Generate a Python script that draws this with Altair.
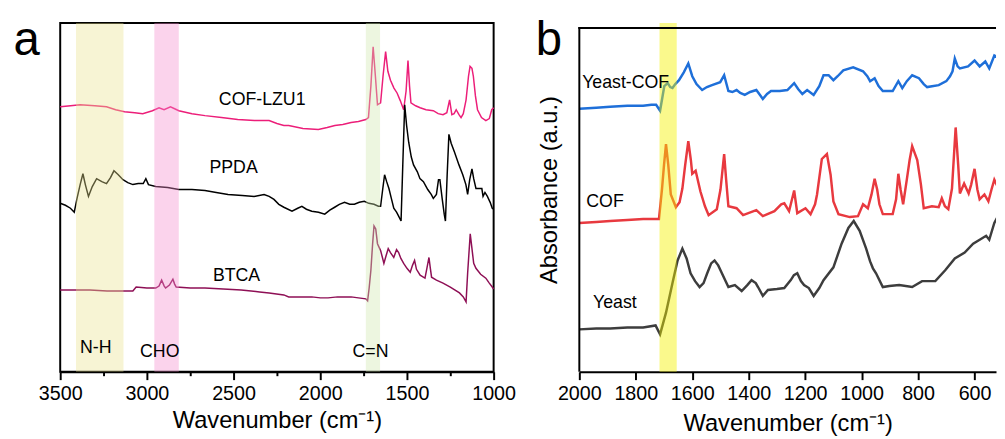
import altair as alt
import pandas as pd

FONT = "Liberation Sans"

# ---------------- Panel a data (wavenumber, relative intensity) ----------------
a_series = ["COF-LZU1", "PPDA", "BTCA"]
a_colors = ["#EC1E79", "#000000", "#8E0F55"]

cof_lzu1_wn = [3500, 3440, 3385, 3300, 3233, 3180, 3129, 3070, 3024, 2968, 2930, 2901, 2864, 2840, 2816,
               2740, 2665, 2570, 2476, 2380, 2295, 2250, 2210, 2182, 2100, 2011, 1960, 1916, 1870, 1822,
               1780, 1737, 1722, 1708, 1695, 1682, 1670, 1652, 1638, 1623, 1610, 1595, 1575, 1557, 1538,
               1519, 1505, 1494, 1485, 1477, 1450, 1424, 1390, 1348, 1320, 1292, 1270, 1254, 1241, 1228,
               1216, 1200, 1188, 1175, 1159, 1145, 1136, 1125, 1117, 1105, 1093, 1070, 1045, 1025, 1011, 1000]
cof_lzu1_v = [269, 270, 271, 270, 269, 266, 264, 263, 262, 265, 268, 266, 269, 267, 265,
              262, 260, 258, 256, 255, 255, 252, 250, 250, 247, 246, 248, 250, 251, 253,
              254, 256, 258, 290, 330, 300, 271, 273, 300, 325, 305, 296, 288, 283, 275,
              266, 285, 316, 290, 273, 270, 268, 266, 265, 262, 261, 263, 276, 261, 262,
              266, 261, 258, 262, 276, 300, 310, 308, 300, 280, 266, 258, 255, 257, 266, 268]

ppda_wn = [3500, 3470, 3441, 3419, 3403, 3385, 3369, 3355, 3337, 3315, 3290, 3260, 3233, 3210, 3190,
           3165, 3138, 3110, 3081, 3050, 3021, 3006, 2991, 2949, 2880, 2816, 2740, 2665, 2600, 2532,
           2450, 2381, 2324, 2295, 2267, 2239, 2210, 2163, 2130, 2106, 2080, 2049, 2010, 1974, 1945,
           1917, 1890, 1860, 1830, 1803, 1775, 1746, 1720, 1690, 1665, 1652, 1640, 1629, 1617, 1604,
           1590, 1576, 1560, 1548, 1534, 1524, 1513, 1502, 1490, 1475, 1462, 1440, 1425, 1405, 1380,
           1360, 1348, 1330, 1318, 1310, 1297, 1285, 1278, 1268, 1258, 1245, 1226, 1200, 1178, 1160,
           1150, 1138, 1125, 1115, 1102, 1080, 1068, 1061, 1050, 1036, 1020, 1008, 1000]
ppda_v = [171, 169, 166, 162, 176, 190, 201, 190, 178, 188, 196, 193, 191, 197, 204,
          200, 195, 192, 190, 191, 191, 196, 190, 188, 187, 185, 185, 184, 182, 180,
          179, 178, 180, 178, 175, 170, 167, 163, 166, 168, 165, 163, 162, 160, 164,
          167, 170, 172, 170, 170, 172, 173, 171, 170, 168, 168, 185, 200, 193, 186,
          176, 166, 162, 158, 153, 210, 271, 250, 233, 218, 210, 203, 196, 193, 185,
          180, 176, 180, 195, 195, 176, 160, 153, 200, 241, 232, 223, 210, 200, 190,
          180, 195, 206, 196, 186, 186, 186, 178, 182, 178, 172, 166, 165]

btca_wn = [3500, 3420, 3328, 3230, 3138, 3081, 3062, 3000, 2949, 2930, 2915, 2900, 2892, 2870, 2850,
           2840, 2831, 2750, 2665, 2560, 2456, 2350, 2295, 2210, 2182, 2100, 2049, 2000, 1955, 1900,
           1822, 1780, 1737, 1727, 1718, 1708, 1698, 1690, 1680, 1670, 1652, 1640, 1633, 1620, 1608,
           1595, 1576, 1560, 1548, 1535, 1519, 1500, 1481, 1468, 1456, 1445, 1424, 1396, 1385, 1373,
           1365, 1358, 1330, 1292, 1250, 1197, 1175, 1159, 1150, 1135, 1125, 1115, 1102, 1075, 1045,
           1025, 1008, 1000]
btca_v = [83, 83, 83, 82, 82, 82, 86, 85, 85, 87, 93, 87, 85, 88, 94,
          89, 86, 85, 85, 84, 83, 81, 80, 78, 76, 76, 76, 75, 75, 76,
          76, 75, 74, 72, 85, 103, 130, 148, 145, 130, 123, 115, 110, 118, 125,
          121, 116, 124, 121, 115, 110, 105, 101, 108, 113, 104, 98, 95, 105, 116,
          105, 96, 93, 90, 86, 80, 76, 71, 100, 140, 125, 110, 105, 99, 95,
          90, 86, 84]

a_bands_lo = [3135, 2816, 1655]
a_bands_hi = [3409, 2957, 1737]
a_bands_color = ["#E9E38F", "#F48BCD", "#CFE8AE"]

a_labels = ["COF-LZU1", "PPDA", "BTCA", "N-H", "CHO", "C=N"]
a_label_wn = [2335, 2500, 2483, 3295, 2926, 1710]
a_label_v = [276, 207, 97, 24, 20, 20]

# ---------------- Panel b data ----------------
b_series = ["Yeast-COF", "COF", "Yeast"]
b_colors = ["#1E6FD9", "#E8393F", "#3D3D3D"]

yeast_cof_wn = [2000, 1940, 1891, 1830, 1774, 1745, 1728, 1714, 1705, 1699, 1687, 1678, 1670, 1660, 1647,
                1630, 1614, 1600, 1585, 1565, 1548, 1530, 1501, 1487, 1472, 1458, 1443, 1430, 1414, 1395,
                1373, 1360, 1350, 1335, 1321, 1290, 1263, 1239, 1225, 1210, 1193, 1170, 1150, 1135, 1117,
                1100, 1085, 1065, 1030, 995, 980, 970, 954, 940, 925, 890, 870, 856, 840, 821,
                797, 780, 768, 727, 700, 687, 678, 670, 660, 652, 623, 600, 582, 562, 548,
                530, 517]
yeast_cof_v = [267, 268, 269, 270, 270, 271, 271, 265, 280, 290, 293, 289, 288, 292, 296,
               304, 313, 300, 292, 286, 289, 291, 294, 301, 285, 284, 286, 283, 281, 284,
               286, 281, 277, 282, 285, 285, 286, 293, 287, 282, 286, 281, 290, 301, 301,
               296, 300, 306, 309, 305, 300, 295, 298, 290, 285, 285, 295, 288, 295, 301,
               298, 292, 289, 291, 295, 300, 305, 318, 310, 308, 310, 316, 310, 315, 308,
               321, 319]

cof_wn = [2000, 1940, 1891, 1830, 1774, 1718, 1707, 1700, 1693, 1685, 1676, 1658, 1645, 1635, 1625,
          1614, 1605, 1600, 1588, 1571, 1555, 1542, 1513, 1500, 1487, 1480, 1472, 1443, 1420, 1373,
          1350, 1309, 1285, 1274, 1257, 1239, 1228, 1199, 1181, 1165, 1158, 1141, 1123, 1110, 1100,
          1082, 1042, 1013, 995, 978, 965, 954, 945, 937, 925, 890, 878, 870, 862, 853,
          840, 830, 821, 803, 790, 780, 751, 727, 716, 705, 693, 680, 667, 658, 652,
          637, 621, 612, 600, 590, 582, 565, 551, 540, 530, 517]
cof_v = [151, 152, 153, 154, 155, 155, 186, 210, 231, 210, 180, 167, 172, 186, 210,
         234, 215, 201, 204, 183, 168, 159, 165, 185, 221, 195, 168, 166, 159, 164,
         158, 163, 170, 171, 163, 184, 161, 166, 160, 170, 180, 216, 221, 200, 173,
         160, 157, 158, 170, 166, 180, 196, 185, 170, 160, 160, 175, 201, 185, 170,
         195, 215, 229, 215, 190, 166, 168, 167, 176, 168, 165, 186, 248, 210, 181,
         191, 181, 190, 206, 185, 175, 180, 173, 185, 195, 187]

yeast_wn = [2000, 1940, 1891, 1830, 1774, 1730, 1714, 1693, 1670, 1652, 1635, 1620, 1606, 1590, 1574,
            1560, 1547, 1533, 1521, 1508, 1495, 1472, 1449, 1425, 1405, 1390, 1375, 1367, 1350, 1332,
            1300, 1274, 1251, 1240, 1228, 1215, 1204, 1187, 1170, 1150, 1135, 1100, 1071, 1047, 1028,
            1007, 984, 970, 960, 949, 925, 902, 867, 821, 786, 739, 704, 670, 635, 605,
            576, 559, 548, 530, 517]
yeast_v = [43, 44, 44, 45, 45, 47, 38, 60, 90, 113, 125, 115, 100, 92, 86,
           90, 100, 110, 113, 108, 100, 86, 88, 82, 88, 93, 90, 86, 77, 83,
           84, 85, 93, 98, 100, 92, 88, 85, 77, 85, 93, 106, 130, 146, 153,
           143, 125, 112, 105, 100, 86, 87, 88, 86, 92, 92, 103, 115, 121, 130,
           135, 138, 134, 151, 158]

b_band_lo = [1655]
b_band_hi = [1716]

b_labels = ["Yeast-COF", "COF", "Yeast"]
b_label_wn = [1836, 1909, 1874]
b_label_v = [293, 172, 70]

# ---------------- build tables ----------------
def series_df(names, colors, wns, vs):
    rows = []
    for n, c, w, v in zip(names, colors, wns, vs):
        for i, (x, y) in enumerate(zip(w, v)):
            rows.append({"series": n, "col": c, "wn": x, "v": y, "i": i})
    return pd.DataFrame(rows)

df_a = series_df(a_series, a_colors, [cof_lzu1_wn, ppda_wn, btca_wn], [cof_lzu1_v, ppda_v, btca_v])
df_b = series_df(b_series, b_colors, [yeast_cof_wn, cof_wn, yeast_wn], [yeast_cof_v, cof_v, yeast_v])
bands_a = pd.DataFrame({"wn": a_bands_lo, "wn2": a_bands_hi, "c": a_bands_color})
bands_b = pd.DataFrame({"wn": b_band_lo, "wn2": b_band_hi})
lab_a = pd.DataFrame({"wn": a_label_wn, "v": a_label_v, "t": a_labels})
lab_b = pd.DataFrame({"wn": b_label_wn, "v": b_label_v, "t": b_labels})

AW, AH = 440, 354
BW, BH = 423, 354
A_DOM = [1000, 3500]
B_DOM = [524, 2000]

def x_axis(values, major, title_y):
    return alt.Axis(
        values=values,
        labelExpr=f"datum.value % {major} === 0 ? datum.label : ''",
        format="d",
        tickSize={"condition": {"test": f"datum.value % {major} === 0", "value": 8}, "value": 4},
        tickWidth=2, tickColor="black",
        domainColor="black", domainWidth=2,
        labelFont=FONT, labelFontSize=20, labelColor="black",
        labelBaseline="alphabetic", labelPadding=20, labelOverlap=False, labelFlush=False,
        title="Wavenumber (cm⁻¹)", titleFont=FONT, titleFontSize=24, titleFontWeight="normal",
        titleColor="black", titleBaseline="alphabetic", titleY=title_y,
        grid=False,
    )

one = alt.Data(values=[{}])

xa = alt.X("wn:Q", scale=alt.Scale(domain=A_DOM, reverse=True, nice=False, zero=False),
           axis=x_axis(list(range(1000, 3501, 250)), 500, 57))
ya = alt.Y("v:Q", scale=alt.Scale(domain=[0, AH], nice=False, zero=False), axis=None)

lines_a = alt.Chart(df_a).mark_line(strokeWidth=1.5).encode(
    x=xa, y=ya, order="i:Q", detail="series:N",
    color=alt.Color("col:N", scale=None),
)
band_a = alt.Chart(bands_a).mark_rect(opacity=0.38, y=0, y2=AH).encode(
    x=alt.X("wn:Q"), x2="wn2:Q", color=alt.Color("c:N", scale=None)
)
text_a = alt.Chart(lab_a).mark_text(font=FONT, fontSize=18, color="black", align="center",
                                    baseline="middle").encode(x="wn:Q", y="v:Q", text="t:N")
tag_a = alt.Chart(one).mark_text(
    text="a", font=FONT, fontSize=48, color="black", align="center", baseline="alphabetic"
).encode(x=alt.value(-34), y=alt.value(32))
# invisible anchor that fixes the top-left corner of the page layout
anchor = alt.Chart(one).mark_rule(opacity=0, strokeWidth=0.1).encode(
    x=alt.value(-52), x2=alt.value(-51), y=alt.value(-11))

panel_a = alt.layer(lines_a, band_a, text_a, tag_a, anchor).properties(
    width=AW, height=AH, view=alt.ViewBackground(stroke="black", strokeWidth=2)
)

xb = alt.X("wn:Q", scale=alt.Scale(domain=B_DOM, reverse=True, nice=False, zero=False),
           axis=x_axis(list(range(600, 2001, 100)), 200, 60))
yb = alt.Y("v:Q", scale=alt.Scale(domain=[0, BH], nice=False, zero=False),
           axis=alt.Axis(title="Absorbance (a.u.)", labels=False, ticks=False, domain=False, grid=False,
                         titleFont=FONT, titleFontSize=24, titleFontWeight="normal", titleColor="black",
                         titleX=-18, titleY=169))

lines_b = alt.Chart(df_b).mark_line(strokeWidth=2.5, clip=True).encode(
    x=xb, y=yb, order="i:Q", detail="series:N",
    color=alt.Color("col:N", scale=None),
)
band_b = alt.Chart(bands_b).mark_rect(opacity=0.45, color="#F4F200", y=0, y2=BH).encode(
    x=alt.X("wn:Q"), x2="wn2:Q"
)
text_b = alt.Chart(lab_b).mark_text(font=FONT, fontSize=18, color="black", align="center",
                                    baseline="middle").encode(x="wn:Q", y="v:Q", text="t:N")
frame_top = alt.Chart(one).mark_rule(color="black", strokeWidth=2).encode(
    x=alt.value(-1), x2=alt.value(BW), y=alt.value(5))
frame_left = alt.Chart(one).mark_rule(color="black", strokeWidth=2).encode(
    x=alt.value(0), y=alt.value(4), y2=alt.value(BH))
tag_b = alt.Chart(one).mark_text(
    text="b", font=FONT, fontSize=48, color="black", align="center", baseline="alphabetic"
).encode(x=alt.value(-31), y=alt.value(32))

panel_b = alt.layer(lines_b, band_b, text_b, frame_top, frame_left, tag_b).properties(
    width=BW, height=BH, view=alt.ViewBackground(stroke=None)
)

chart = alt.hconcat(panel_a, panel_b, spacing=87, bounds="flush").properties(
    padding={"left": 0, "top": 0, "right": 0, "bottom": 0}
).configure_view(stroke=None)

chart.save("out.html", embed_options={"renderer": "svg", "actions": False})
